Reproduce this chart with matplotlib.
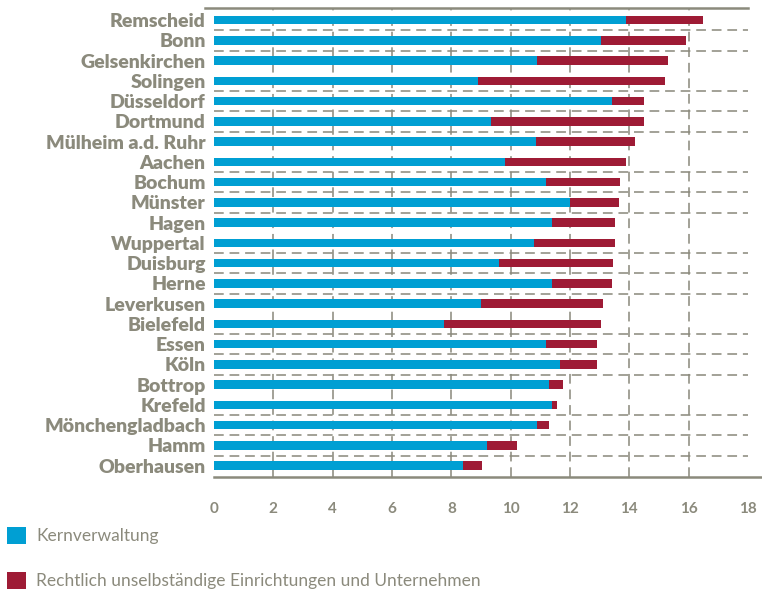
import matplotlib
matplotlib.use("Agg")
import matplotlib.pyplot as plt
import numpy as np

# Data
cities = ["Remscheid", "Bonn", "Gelsenkirchen", "Solingen", "Düsseldorf", "Dortmund",
          "Mülheim a.d. Ruhr", "Aachen", "Bochum", "Münster", "Hagen", "Wuppertal",
          "Duisburg", "Herne", "Leverkusen", "Bielefeld", "Essen", "Köln", "Bottrop",
          "Krefeld", "Mönchengladbach", "Hamm", "Oberhausen"]
kern = [13.9, 13.05, 10.9, 8.9, 13.4, 9.35, 10.85, 9.8, 11.2, 12.0, 11.4, 10.8,
        9.6, 11.4, 9.0, 7.75, 11.2, 11.65, 11.3, 11.4, 10.9, 9.2, 8.4]
total = [16.5, 15.9, 15.3, 15.2, 14.5, 14.5, 14.2, 13.9, 13.7, 13.65, 13.5, 13.5,
         13.45, 13.4, 13.1, 13.05, 12.9, 12.9, 11.75, 11.55, 11.3, 10.2, 9.05]
xticks = [0, 2, 4, 6, 8, 10, 12, 14, 16, 18]

blue = "#009fd3"
red = "#9e1b35"
gray = "#8b8a7c"
plt.rcParams["font.family"] = ["Lato", "DejaVu Sans"]

rest = [t - k for t, k in zip(total, kern)]
y = np.arange(len(cities))

fig = plt.figure(figsize=(7.62, 5.92), dpi=100)
ax = fig.add_axes([214 / 762, 1 - 477 / 592, (748 - 214) / 762, (477 - 8) / 592])

# grid
for i in range(len(cities) - 1):
    if (i - 2) % 4 != 0:
        ax.axhline(i + 0.5, color=gray, lw=1.4, ls=(0, (5, 3)), alpha=0.8, zorder=1)
for t in xticks[1:-1]:
    ax.axvline(t, color=gray, lw=1.4, ls=(0, (5, 3)), alpha=0.8, zorder=1)

b1 = ax.barh(y, kern, height=0.42, color=blue, zorder=3, label="Kernverwaltung")
b2 = ax.barh(y, rest, left=kern, height=0.42, color=red, zorder=3,
             label="Rechtlich unselbständige Einrichtungen und Unternehmen")

ax.set_xlim(0, 18)
ax.set_ylim(22.56, -0.6)
ax.set_yticks(y)
ax.set_yticklabels(cities, fontsize=14, fontweight="heavy", color=gray)
ax.set_xticks(xticks)
ax.set_xticklabels([str(t) for t in xticks], fontsize=11, fontweight="bold", color=gray)
ax.tick_params(axis="y", length=0, pad=6)
ax.tick_params(axis="x", length=0, pad=18)

for s in ["left", "right"]:
    ax.spines[s].set_visible(False)
ax.spines["top"].set_color(gray)
ax.spines["top"].set_linewidth(1.8)
ax.spines["bottom"].set_color(gray)
ax.spines["bottom"].set_linewidth(1.8)
ax.spines["bottom"].set_bounds(0, 18.5)
ax.spines["top"].set_bounds(-0.3, 18)
ax.spines["bottom"].set_clip_on(False)

fig.legend(handles=[b1, b2], loc="upper left", bbox_to_anchor=(0.0, 1 - 520 / 592),
           frameon=False, fontsize=12.5, labelcolor=gray, handlelength=1.1,
           handleheight=1.1, handletextpad=0.6, labelspacing=1.6, borderpad=0.2,
           borderaxespad=0.2)

fig.savefig("out.png", dpi=100)
